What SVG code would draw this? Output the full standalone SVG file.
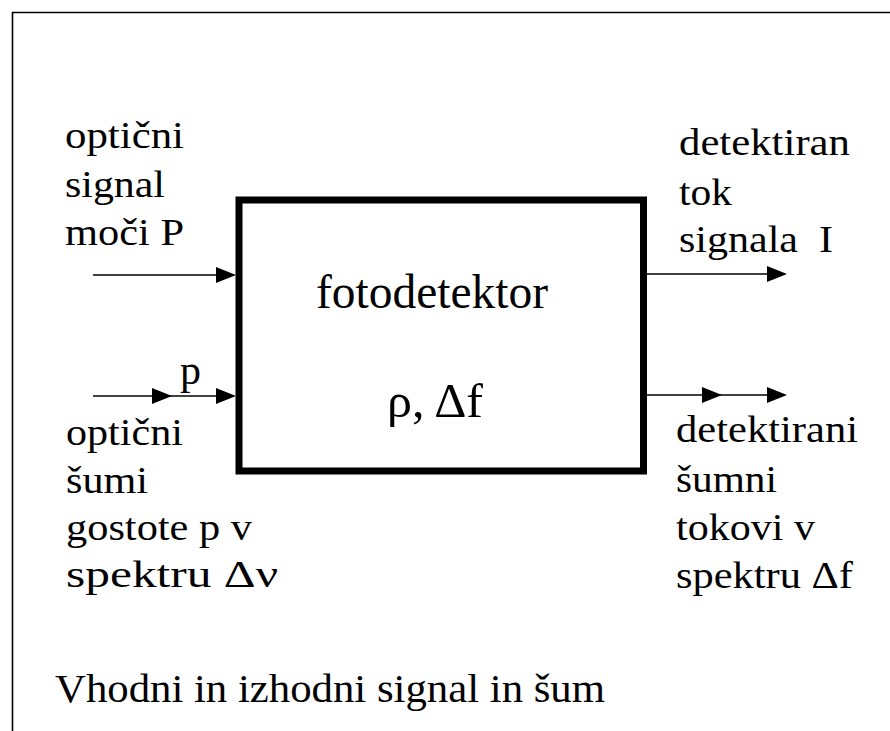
<svg xmlns="http://www.w3.org/2000/svg" xmlns:xlink="http://www.w3.org/1999/xlink" width="890" height="731" viewBox="0 0 890 731">
<style>
  text { font-family: "Liberation Serif", "Times New Roman", serif; fill: #000; }
  .lbl { font-size: 38px; }
  .ctr { font-size: 48px; }
  .conn { stroke: #000; stroke-width: 1.5; fill: none; }
  .frame { stroke: #000; stroke-width: 1.6; fill: none; }
</style>
<defs>
  <path id="ah" d="M0,0 L-20,-8 L-20,8 Z" fill="#000"/>
</defs>
<rect width="890" height="731" fill="#fff"/>
<path class="frame" d="M12.5,731 L12.5,12.5 L890,12.5"/>

<g id="fotodetektor">
  <rect x="239" y="200" width="404.5" height="271" fill="none" stroke="#000" stroke-width="7"/>
  <text class="ctr" x="316" y="308" textLength="232" lengthAdjust="spacingAndGlyphs">fotodetektor</text>
  <text class="ctr" x="387" y="417" textLength="96" lengthAdjust="spacingAndGlyphs">ρ, Δf</text>
</g>

<g id="input-signal">
  <text class="lbl" x="65" y="148" textLength="119" lengthAdjust="spacingAndGlyphs">optični</text>
  <text class="lbl" x="65" y="197" textLength="100" lengthAdjust="spacingAndGlyphs">signal</text>
  <text class="lbl" x="65" y="245" textLength="119" lengthAdjust="spacingAndGlyphs">moči P</text>
</g>

<g id="input-noise">
  <text class="lbl" x="180" y="384" style="font-size:42px">p</text>
  <text class="lbl" x="66" y="445" textLength="117" lengthAdjust="spacingAndGlyphs">optični</text>
  <text class="lbl" x="66" y="493" textLength="82" lengthAdjust="spacingAndGlyphs">šumi</text>
  <text class="lbl" x="66" y="540" textLength="186" lengthAdjust="spacingAndGlyphs">gostote p v</text>
  <text class="lbl" x="66" y="587" textLength="212" lengthAdjust="spacingAndGlyphs">spektru Δν</text>
</g>

<g id="output-signal">
  <text class="lbl" x="679" y="155" textLength="171" lengthAdjust="spacingAndGlyphs">detektiran</text>
  <text class="lbl" x="679" y="205" textLength="53" lengthAdjust="spacingAndGlyphs">tok</text>
  <text class="lbl" x="679" y="252" textLength="154" lengthAdjust="spacingAndGlyphs" xml:space="preserve">signala  I</text>
</g>

<g id="output-noise">
  <text class="lbl" x="676" y="442" textLength="182" lengthAdjust="spacingAndGlyphs">detektirani</text>
  <text class="lbl" x="676" y="492" textLength="101" lengthAdjust="spacingAndGlyphs">šumni</text>
  <text class="lbl" x="676" y="540" textLength="139" lengthAdjust="spacingAndGlyphs">tokovi v</text>
  <text class="lbl" x="676" y="588" textLength="177" lengthAdjust="spacingAndGlyphs">spektru Δf</text>
</g>

<g id="caption">
  <text style="font-size:40px" x="55" y="702" textLength="550" lengthAdjust="spacingAndGlyphs">Vhodni in izhodni signal in šum</text>
</g>

<g id="connectors">
  <line class="conn" x1="93" y1="275" x2="222" y2="275"/>
  <use xlink:href="#ah" x="236" y="275"/>
  <line class="conn" x1="93" y1="396" x2="222" y2="396"/>
  <use xlink:href="#ah" x="172" y="396"/>
  <use xlink:href="#ah" x="236" y="396"/>
  <line class="conn" x1="643" y1="274" x2="772" y2="274"/>
  <use xlink:href="#ah" x="787" y="274"/>
  <line class="conn" x1="643" y1="395" x2="772" y2="395"/>
  <use xlink:href="#ah" x="722" y="395"/>
  <use xlink:href="#ah" x="787" y="395"/>
</g>
</svg>
